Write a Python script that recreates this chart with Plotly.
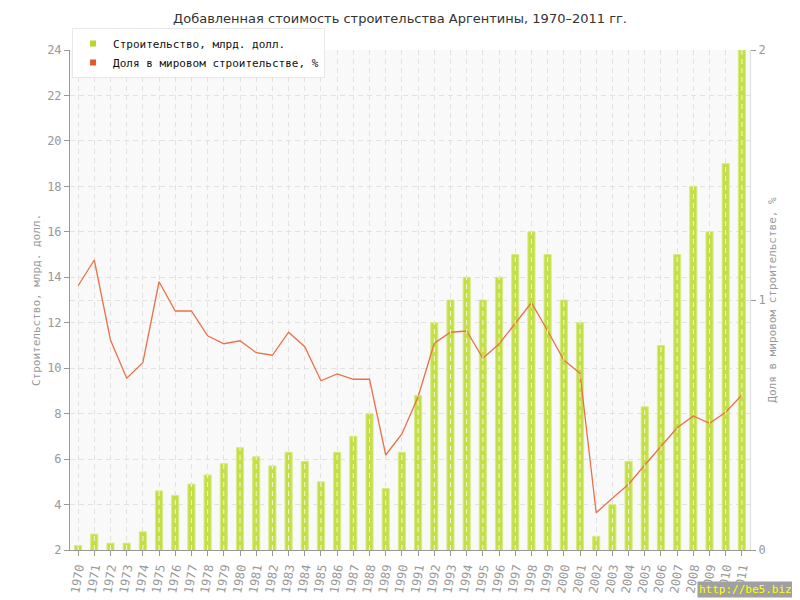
import plotly.graph_objects as go

years = list(range(1970, 2012))
construction = [2.2, 2.7, 2.3, 2.3, 2.8, 4.6, 4.4, 4.9, 5.3, 5.8,
                6.5, 6.1, 5.7, 6.3, 5.9, 5.0, 6.3, 7.0, 8.0, 4.7,
                6.3, 8.8, 12.0, 13.0, 14.0, 13.0, 14.0, 15.0, 16.0, 15.0,
                13.0, 12.0, 2.6, 4.0, 5.9, 8.3, 11.0, 15.0, 18.0, 16.0,
                19.0, 24.0]
share = [1.057, 1.16, 0.84, 0.687, 0.749, 1.073, 0.956, 0.956, 0.857, 0.825,
         0.837, 0.789, 0.779, 0.871, 0.813, 0.677, 0.704, 0.683, 0.683, 0.38,
         0.464, 0.613, 0.827, 0.871, 0.876, 0.767, 0.824, 0.907, 0.989, 0.877,
         0.76, 0.707, 0.149, 0.207, 0.263, 0.34, 0.413, 0.489, 0.536, 0.507,
         0.551, 0.62]
left_ticks = list(range(2, 25, 2))
right_ticks = [0, 1, 2]

title = "Добавленная стоимость строительства Аргентины, 1970–2011 гг."
name_bar = "Строительство, млрд. долл."
name_line = "Доля в мировом строительстве, %"

mono = "DejaVu Sans Mono"
grey = "#999999"
bar_color = "#c4df45"
line_color = "#e8714a"

fig = go.Figure()
fig.add_trace(go.Bar(x=years, y=construction, base=0, name=name_bar, showlegend=False,
                     marker=dict(color=bar_color, line=dict(color="#d6eb86", width=1)),
                     width=0.44))
fig.add_trace(go.Scatter(x=years, y=share, yaxis="y2", mode="lines",
                         line=dict(color=line_color, width=1.3), showlegend=False))
# legend entries (square markers as in the reference)
fig.add_trace(go.Scatter(x=[None], y=[None], mode="markers", name=name_bar,
                         marker=dict(symbol="square", color="#b5d826", size=6)))
fig.add_trace(go.Scatter(x=[None], y=[None], yaxis="y2", mode="markers", name=name_line,
                         marker=dict(symbol="square", color="#e05a2a", size=6)))

# white dashed lines on bars (grid showing through)
for yr, v in zip(years, construction):
    fig.add_shape(type="line", xref="x", yref="y", x0=yr, x1=yr, y0=2, y1=v,
                  line=dict(color="rgba(255,255,255,0.8)", width=1, dash="5px,4px"),
                  layer="above")

fig.update_layout(
    width=800, height=600,
    margin=dict(l=62, r=58, t=42, b=58),
    paper_bgcolor="white", plot_bgcolor="#f9f9f9",
    font=dict(family=mono, size=11, color=grey),
    title=dict(text=title, x=(400 - 8 - 62) / 680, xanchor="center", xref="paper",
               y=1 - 10 / 600, yanchor="middle",
               font=dict(family="DejaVu Sans", size=13, color="#333333")),
    bargap=0.5,
    legend=dict(x=0.003, y=1 + 22 / 500, xanchor="left", yanchor="top",
                bgcolor="white", bordercolor="#e8e8e8", borderwidth=1,
                font=dict(family=mono, size=11, color="#111111"),
                itemwidth=30, tracegroupgap=0),
    xaxis=dict(range=[1969.5, 2011.5], tickmode="array", tickvals=years,
               ticktext=[str(y) for y in years], tickangle=-80,
               ticks="outside", ticklen=5, tickcolor=grey, automargin=False,
               showline=True, linecolor=grey, linewidth=1,
               showgrid=True, gridcolor="#e2e2e2", griddash="5px,4px", gridwidth=1,
               zeroline=False, tickfont=dict(family=mono, size=12, color=grey)),
    yaxis=dict(range=[2, 24], tickmode="array", tickvals=left_ticks,
               ticks="outside", ticklen=5, tickcolor=grey, automargin=False,
               showline=True, linecolor=grey, linewidth=1,
               showgrid=True, gridcolor="#e2e2e2", griddash="5px,4px",
               zeroline=False, tickfont=dict(family=mono, size=12, color=grey),
               title=dict(text=name_bar, font=dict(family=mono, size=11, color=grey), standoff=4)),
    yaxis2=dict(range=[0, 2], tickmode="array", tickvals=right_ticks,
                overlaying="y", side="right", automargin=False,
                ticks="outside", ticklen=5, tickcolor=grey,
                showline=True, linecolor="#dddddd", linewidth=1,
                showgrid=True, gridcolor="#e2e2e2", griddash="5px,4px",
                zeroline=False, tickfont=dict(family=mono, size=12, color=grey),
                title=dict(text=name_line, font=dict(family=mono, size=11, color=grey), standoff=2)),
)

fig.add_annotation(text="http://be5.biz/", xref="paper", yref="paper",
                   x=(792 - 62) / 680, y=-(590 - 542) / 500, xanchor="right", yanchor="bottom",
                   showarrow=False, bgcolor="#a0a0a0", borderpad=1,
                   font=dict(family=mono, size=11, color="#ffff00"))

fig.write_html("out.html")
